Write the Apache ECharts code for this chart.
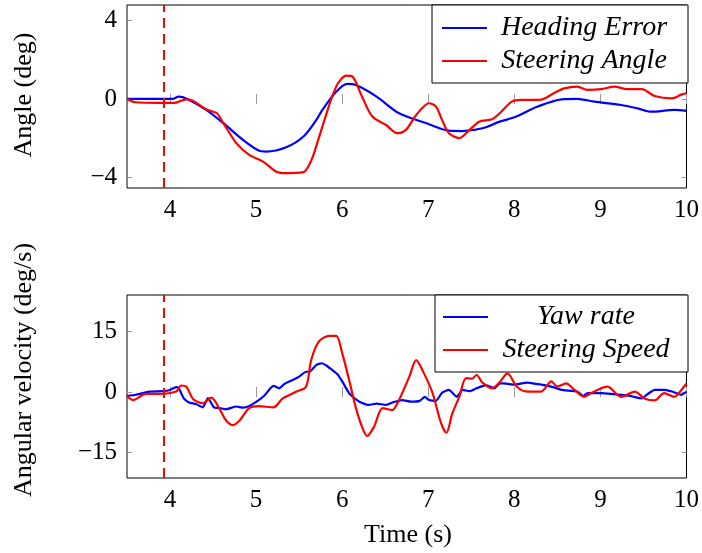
<!DOCTYPE html>
<html>
<head>
<meta charset="utf-8">
<script src="https://cdn.jsdelivr.net/npm/echarts@6/dist/echarts.min.js"></script>
<style>html,body{margin:0;padding:0;background:#fff}#c{width:702px;height:553px}</style>
</head>
<body>
<div id="c"></div>
<script>
// ---- data ----
const xTicks = [4, 5, 6, 7, 8, 9, 10];
const angleTicks = [-4, 0, 4];
const rateTicks = [-15, 0, 15];
const markerX = 3.93;

const headingT = [3.5,3.8,4.03,4.1,4.2,4.42,4.62,4.85,5.03,5.12,5.35,5.55,5.70,5.77,5.93,6.06,6.16,6.4,6.66,6.98,7.24,7.4,7.63,7.83,8.0,8.27,8.55,8.73,8.93,9.24,9.43,9.59,9.86,10];
const headingV = [0,0,0,0.12,0,-0.56,-1.24,-2.1,-2.64,-2.69,-2.47,-1.92,-1.07,-0.56,0.37,0.77,0.71,0.12,-0.73,-1.24,-1.62,-1.64,-1.5,-1.16,-0.94,-0.39,-0.02,0,-0.14,-0.31,-0.48,-0.65,-0.56,-0.61];

const steerT = [3.5,3.6,3.87,4.05,4.19,4.27,4.42,4.5,4.55,4.62,4.77,4.92,5.08,5.23,5.31,5.55,5.6,5.66,5.77,5.93,6.05,6.12,6.23,6.35,6.51,6.64,6.74,6.86,7.01,7.09,7.16,7.24,7.36,7.48,7.59,7.74,7.83,7.97,8.08,8.29,8.47,8.58,8.73,8.85,9.01,9.16,9.31,9.48,9.63,9.83,9.94,10];
const steerV = [0,-0.17,-0.2,-0.2,-0.02,-0.1,-0.53,-0.65,-0.75,-1.24,-2.26,-2.86,-3.2,-3.71,-3.79,-3.74,-3.5,-2.94,-1.41,0.63,1.19,1.14,0.12,-0.9,-1.33,-1.75,-1.58,-0.82,-0.22,-0.39,-1.07,-1.75,-2.0,-1.58,-1.16,-1.04,-0.73,-0.14,-0.05,-0.05,0.32,0.54,0.63,0.46,0.5,0.63,0.5,0.5,0.15,0.03,0.22,0.29];

const yawT = [3.5,3.6,3.76,3.92,4.0,4.07,4.1,4.16,4.22,4.3,4.38,4.44,4.51,4.58,4.65,4.77,4.85,4.92,5.03,5.1,5.15,5.2,5.27,5.33,5.43,5.5,5.58,5.62,5.7,5.76,5.82,5.88,5.94,6.0,6.08,6.14,6.2,6.31,6.4,6.51,6.6,6.7,6.8,6.9,6.96,7.01,7.09,7.16,7.24,7.33,7.4,7.48,7.56,7.67,7.77,7.83,7.88,8.0,8.15,8.25,8.35,8.45,8.55,8.73,8.8,8.85,9.01,9.24,9.35,9.48,9.55,9.63,9.75,9.83,9.94,10];
const yawV = [-1,-0.7,0.1,0.2,0.5,1.2,1.0,-1.6,-2.6,-3.0,-3.8,-1.5,-3.8,-4.0,-4.3,-3.6,-3.9,-3.5,-2.0,-0.8,0.5,1.5,0.9,2.0,3.0,3.8,5.0,5.0,6.7,7.1,6.5,5.5,4.5,2.6,-0.3,-1.5,-2.4,-3.2,-2.9,-3.2,-2.5,-2.0,-2.4,-2.2,-1.2,-2.0,-2.2,-0.2,0.5,-1.2,0.5,0.2,0.9,1.7,0.9,2.1,2.1,1.8,2.3,2.0,1.7,1.2,0.5,0.1,-1.0,-0.3,-0.3,-0.7,-1.0,-1.6,-0.5,0.5,0.5,0.1,-0.7,0.1];

const speedT = [3.5,3.57,3.72,3.87,4.07,4.13,4.19,4.27,4.38,4.48,4.57,4.65,4.73,4.81,4.92,5.03,5.2,5.31,5.47,5.58,5.64,5.73,5.85,5.93,6.0,6.08,6.16,6.23,6.29,6.37,6.47,6.58,6.66,6.78,6.86,6.95,7.05,7.15,7.21,7.28,7.36,7.44,7.51,7.56,7.63,7.74,7.83,7.92,8.03,8.15,8.31,8.43,8.5,8.6,8.7,8.81,8.9,9.08,9.24,9.4,9.51,9.63,9.74,9.86,9.94,10];
const speedV = [-1,-2,-0.5,-0.5,0.1,1.6,1.3,-1.8,-2.8,-1.4,-4,-7,-8.2,-7,-4,-3.5,-3.8,-1.6,0.1,1.3,7.9,12.5,13.9,13.9,9.6,3,-4,-8.6,-10.9,-8.6,-4,-4.5,-2,3.8,7.9,4.6,-0.3,-7.8,-10.1,-5.3,-1.2,3.4,3.3,4.2,2.3,0.9,2.4,4.6,1.3,0.1,0.1,2.6,1.3,2.1,0.5,-1.2,-0.2,1.3,-1.2,0.1,-1.6,-2.1,-0.3,-1.2,0.5,2.1];

const legendTop = ['Heading Error', 'Steering Angle'];
const legendBottom = ['Yaw rate', 'Steering Speed'];

// ---- helpers ----
const zip = (t, v) => t.map((x, i) => [x, v[i]]);
const SERIF = 'Liberation Serif';
const fmtNum = v => String(v).replace('-', '\u2212');
const tickGrey = '#9a9a9a';

function xAx(grid, pos, labels) {
  return {
    type: 'value', gridIndex: grid, position: pos, min: 3.5, max: 10,
    axisLine: { show: false },
    splitLine: { show: false },
    axisTick: { show: true, inside: true, length: 5, customValues: xTicks, lineStyle: { color: tickGrey, width: 1 } },
    axisLabel: { show: labels, customValues: xTicks, margin: 10, color: '#000', fontFamily: SERIF, fontSize: 25, formatter: fmtNum }
  };
}
function yAx(grid, pos, labels, mn, mx, ticks) {
  return {
    type: 'value', gridIndex: grid, position: pos, min: mn, max: mx,
    axisLine: { show: false },
    splitLine: { show: false },
    axisTick: { show: true, inside: true, length: 5, customValues: ticks, lineStyle: { color: tickGrey, width: 1 } },
    axisLabel: { show: labels, customValues: ticks, margin: 10, color: '#000', fontFamily: SERIF, fontSize: 25, formatter: fmtNum }
  };
}
function legendOf(names, left, top, pad, width) {
  return {
    data: names.map(n => ({ name: n, icon: 'rect' })), orient: 'vertical', left: left, top: top,
    padding: pad, itemGap: 5, itemWidth: 45, itemHeight: 2,
    backgroundColor: '#fff', borderColor: '#000', borderWidth: 1, borderRadius: 0,
    selectedMode: false,
    formatter: n => '{t|' + n + '}',
    textStyle: { rich: { t: { width: width, align: 'center', fontFamily: SERIF, fontStyle: 'italic', fontSize: 28, lineHeight: 28, color: '#000' } } }
  };
}
const mark = {
  silent: true, symbol: ['none', 'none'], label: { show: false },
  lineStyle: { color: '#ff0000', type: [10, 6], width: 2 },
  data: [{ xAxis: markerX }]
};
const LW = 2.2;

const chart = echarts.init(document.getElementById('c'), null, { renderer: 'canvas' });
chart.setOption({
  animation: false,
  backgroundColor: '#fff',
  grid: [
    { left: 127, top: 5, width: 561, height: 183, show: true, borderColor: '#000', borderWidth: 1, backgroundColor: 'transparent' },
    { left: 127, top: 295, width: 561, height: 183, show: true, borderColor: '#000', borderWidth: 1, backgroundColor: 'transparent' }
  ],
  xAxis: [xAx(0, 'bottom', true), xAx(1, 'bottom', true), xAx(0, 'top', false), xAx(1, 'top', false)],
  yAxis: [
    yAx(0, 'left', true, -4.55, 4.8, angleTicks), yAx(1, 'left', true, -21.3, 24, rateTicks),
    yAx(0, 'right', false, -4.55, 4.8, angleTicks), yAx(1, 'right', false, -21.3, 24, rateTicks)
  ],
  legend: [
    legendOf(legendTop, 432, 5, [9, 12, 8, 10], 184),
    legendOf(legendBottom, 435, 295, [8, 9, 8, 8], 186)
  ],
  series: [
    { name: 'Heading Error', type: 'line', xAxisIndex: 0, yAxisIndex: 0, data: zip(headingT, headingV), symbol: 'none', smooth: 0.3, lineStyle: { color: '#0000ff', width: LW }, itemStyle: { color: '#0000ff' }, z: 3 },
    { name: 'Steering Angle', type: 'line', xAxisIndex: 0, yAxisIndex: 0, data: zip(steerT, steerV), symbol: 'none', smooth: 0.3, lineStyle: { color: '#ff0000', width: LW }, itemStyle: { color: '#ff0000' }, z: 4, markLine: mark },
    { name: 'Yaw rate', type: 'line', xAxisIndex: 1, yAxisIndex: 1, data: zip(yawT, yawV), symbol: 'none', smooth: 0.15, lineStyle: { color: '#0000ff', width: LW }, itemStyle: { color: '#0000ff' }, z: 3 },
    { name: 'Steering Speed', type: 'line', xAxisIndex: 1, yAxisIndex: 1, data: zip(speedT, speedV), symbol: 'none', smooth: 0.3, lineStyle: { color: '#ff0000', width: LW }, itemStyle: { color: '#ff0000' }, z: 4, markLine: mark }
  ],
  graphic: [
    { type: 'text', x: 24, y: 95, rotation: Math.PI / 2, style: { text: 'Angle (deg)', fontFamily: SERIF, fontSize: 26, fill: '#000', textAlign: 'center', textVerticalAlign: 'middle' } },
    { type: 'text', x: 24, y: 370, rotation: Math.PI / 2, style: { text: 'Angular velocity (deg/s)', fontFamily: SERIF, fontSize: 26, fill: '#000', textAlign: 'center', textVerticalAlign: 'middle' } },
    { type: 'text', x: 408, y: 535, style: { text: 'Time (s)', fontFamily: SERIF, fontSize: 26, fill: '#000', textAlign: 'center', textVerticalAlign: 'middle' } }
  ]
});
</script>
</body>
</html>
